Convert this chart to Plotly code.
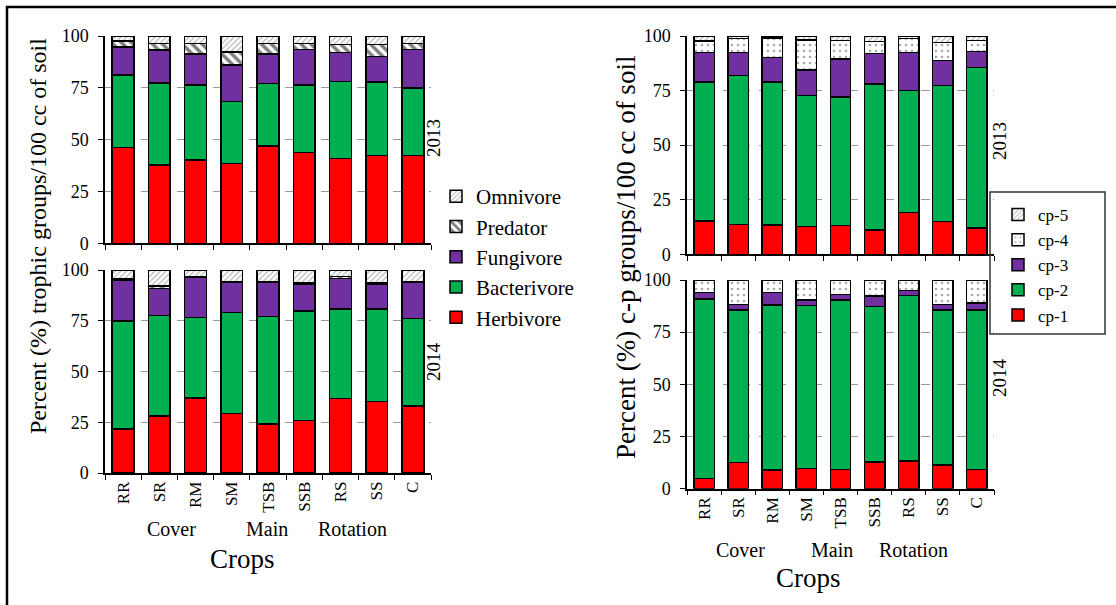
import plotly.graph_objects as go

crops = ["RR", "SR", "RM", "SM", "TSB", "SSB", "RS", "SS", "C"]

# Trophic groups (% segment per crop)
herb_2013 = [46.1, 37.8, 40.2, 38.4, 46.9, 43.9, 41.0, 42.3, 42.3]
bact_2013 = [35.1, 39.5, 36.2, 29.9, 30.3, 32.5, 37.0, 35.4, 32.5]
fung_2013 = [13.5, 15.9, 14.9, 17.7, 14.0, 17.2, 14.1, 12.3, 18.8]
pred_2013 = [2.8, 3.3, 5.2, 6.4, 5.3, 2.8, 3.9, 6.0, 2.9]
omni_2013 = [2.5, 3.5, 3.5, 7.6, 3.5, 3.6, 4.0, 4.0, 3.5]

herb_2014 = [21.8, 28.2, 36.9, 29.2, 24.1, 25.9, 36.6, 35.2, 33.1]
bact_2014 = [53.1, 49.5, 39.8, 49.8, 52.9, 53.9, 44.2, 45.6, 43.1]
fung_2014 = [20.2, 13.3, 19.5, 14.9, 16.9, 13.3, 15.1, 12.3, 17.6]
pred_2014 = [0.5, 1.0, 0.5, 0.4, 0.4, 0.6, 0.8, 0.4, 0.4]
omni_2014 = [4.4, 8.0, 3.3, 5.7, 5.7, 6.3, 3.3, 6.5, 5.8]

# c-p groups (% segment per crop)
cp1_2013 = [15.3, 13.7, 13.4, 12.8, 13.1, 11.1, 19.2, 15.0, 12.0]
cp2_2013 = [63.6, 68.3, 65.5, 59.9, 59.0, 66.9, 55.9, 62.4, 73.5]
cp3_2013 = [13.5, 10.4, 11.2, 11.7, 17.4, 13.9, 17.3, 11.3, 7.5]
cp4_2013 = [5.3, 6.5, 9.1, 13.8, 8.4, 5.5, 6.5, 8.4, 5.0]
cp5_2013 = [2.3, 1.1, 0.8, 1.8, 2.1, 2.6, 1.1, 2.9, 2.0]

cp1_2014 = [4.8, 12.5, 8.9, 9.6, 9.3, 12.9, 13.3, 11.3, 9.3]
cp2_2014 = [86.1, 73.1, 79.1, 78.1, 81.1, 74.3, 79.2, 74.3, 76.3]
cp3_2014 = [3.2, 2.7, 6.1, 2.7, 2.7, 5.1, 2.5, 2.7, 3.5]
cp4_2014 = [5.9, 11.7, 5.9, 9.6, 6.9, 7.7, 5.0, 11.7, 10.9]
cp5_2014 = [0, 0, 0, 0, 0, 0, 0, 0, 0]

FONT = "Liberation Serif"
W, H = 1116, 605
RED, GREEN, PURPLE = "#FF0000", "#00B050", "#7030A0"

solid = lambda c: dict(color=c, line=dict(color="black", width=1.5))
omni_m = dict(color="white", line=dict(color="black", width=1.5),
              pattern=dict(shape="/", fgcolor="#777777", bgcolor="white", size=4, solidity=0.35))
pred_m = dict(color="white", line=dict(color="black", width=1.5),
              pattern=dict(shape="\\", fgcolor="black", bgcolor="white", size=7, solidity=0.5))
cp5_m = dict(color="white", line=dict(color="black", width=1.5),
             pattern=dict(shape="/", fgcolor="#666666", bgcolor="white", size=4, solidity=0.3))
cp4_m = dict(color="white", line=dict(color="black", width=1.5),
             pattern=dict(shape=".", fgcolor="#555555", bgcolor="white", size=6, solidity=0.15))

fig = go.Figure()

troph = [
    ("Herbivore", herb_2013, herb_2014, solid(RED)),
    ("Bacterivore", bact_2013, bact_2014, solid(GREEN)),
    ("Fungivore", fung_2013, fung_2014, solid(PURPLE)),
    ("Predator", pred_2013, pred_2014, pred_m),
    ("Omnivore", omni_2013, omni_2014, omni_m),
]
for name, v13, v14, m in troph:
    fig.add_trace(go.Bar(x=crops, y=v13, name=name, marker=m, xaxis="x", yaxis="y",
                         legend="legend", showlegend=True, legendgroup=name))
    fig.add_trace(go.Bar(x=crops, y=v14, name=name, marker=m, xaxis="x2", yaxis="y2",
                         legend="legend", showlegend=False, legendgroup=name))

cps = [
    ("cp-1", cp1_2013, cp1_2014, solid(RED)),
    ("cp-2", cp2_2013, cp2_2014, solid(GREEN)),
    ("cp-3", cp3_2013, cp3_2014, solid(PURPLE)),
    ("cp-4", cp4_2013, cp4_2014, cp4_m),
    ("cp-5", cp5_2013, cp5_2014, cp5_m),
]
for name, v13, v14, m in cps:
    fig.add_trace(go.Bar(x=crops, y=v13, name=name, marker=m, xaxis="x3", yaxis="y3",
                         legend="legend2", showlegend=True, legendgroup=name))
    fig.add_trace(go.Bar(x=crops, y=v14, name=name, marker=m, xaxis="x4", yaxis="y4",
                         legend="legend2", showlegend=False, legendgroup=name))

px = lambda p: p / W
py = lambda p: 1 - p / H

def xax(domain, anchor, labels):
    return dict(domain=domain, anchor=anchor, type="category", categoryorder="array",
                categoryarray=crops, range=[-0.5, 8.5], showline=True, linecolor="black",
                linewidth=1.5, ticks="outside", tickson="boundaries", ticklen=5,
                tickcolor="black", showgrid=False, showticklabels=labels, tickangle=-90,
                tickfont=dict(family=FONT, size=17, color="black"))

def yax(domain, anchor):
    return dict(domain=domain, anchor=anchor, range=[0, 100], tickvals=[0, 25, 50, 75, 100],
                showline=True, linecolor="black", linewidth=1.5, ticks="outside", ticklen=5,
                tickcolor="black", showgrid=True, gridcolor="#9a9a9a", griddash="dash",
                gridwidth=1, zeroline=False, ticklabelstandoff=6,
                tickfont=dict(family=FONT, size=18, color="black"))

LX = [px(105), px(431)]
RX = [px(687), px(994)]

fig.update_layout(
    width=W, height=H, margin=dict(l=0, r=0, t=0, b=0, autoexpand=False),
    paper_bgcolor="white", plot_bgcolor="white", barmode="stack", bargap=0.4,
    font=dict(family=FONT, color="black"),
    xaxis=xax(LX, "y", False),
    yaxis=yax([py(243.3), py(36)], "x"),
    xaxis2=xax(LX, "y2", True),
    yaxis2=yax([py(473), py(270)], "x2"),
    xaxis3=xax(RX, "y3", False),
    yaxis3=yax([py(254.3), py(36)], "x3"),
    xaxis4=xax(RX, "y4", True),
    yaxis4=yax([py(488.7), py(280)], "x4"),
    legend=dict(x=px(436), y=py(176), xanchor="left", yanchor="top", traceorder="reversed",
                font=dict(family=FONT, size=21, color="black"), bgcolor="rgba(0,0,0,0)",
                tracegroupgap=0, itemwidth=30),
    legend2=dict(x=px(998), y=py(197), xanchor="left", yanchor="top", traceorder="reversed",
                 font=dict(family=FONT, size=17, color="black"), bgcolor="rgba(0,0,0,0)",
                 tracegroupgap=0, itemwidth=30),
    showlegend=True,
)

shapes = [
    dict(type="rect", xref="paper", yref="paper", x0=px(7), x1=1.02, y0=-0.02, y1=py(7),
         line=dict(color="black", width=2.5), fillcolor="rgba(0,0,0,0)", layer="above"),
    dict(type="rect", xref="paper", yref="paper", x0=px(990), x1=px(1105), y0=py(334), y1=py(192),
         line=dict(color="#333333", width=1.5), fillcolor="rgba(0,0,0,0)", layer="above"),
]
fig.update_layout(shapes=shapes)

ann = []
def add(text, x, y, size, angle=0):
    ann.append(dict(text=text, x=px(x), y=py(y), xref="paper", yref="paper", showarrow=False,
                    xanchor="center", yanchor="middle", textangle=angle,
                    font=dict(family=FONT, size=size, color="black")))

add("Percent (%) trophic groups/100 cc of soil", 38, 236, 24, -90)
add("Percent (%) c-p groups/100 cc of soil", 626, 258, 27, -90)
add("2013", 433, 138, 19, -90)
add("2014", 433, 362, 19, -90)
add("2013", 999, 141, 19, -90)
add("2014", 999, 378, 19, -90)
add("Cover", 171, 529, 20)
add("Main", 267, 529, 20)
add("Rotation", 352, 529, 20)
add("Crops", 242, 559, 27)
add("Cover", 740, 550, 20)
add("Main", 832, 550, 20)
add("Rotation", 913, 550, 20)
add("Crops", 808, 578, 27)
fig.update_layout(annotations=ann)

fig.write_html("out.html")
